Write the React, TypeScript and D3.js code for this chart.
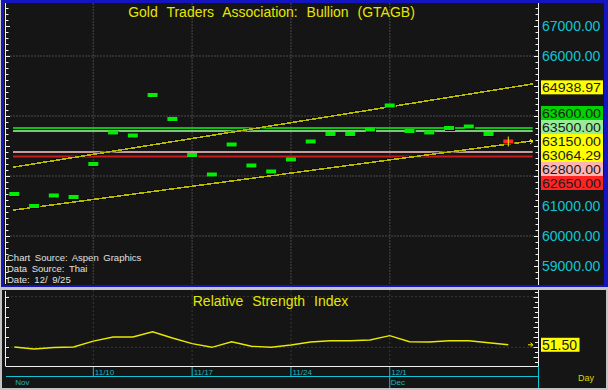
import React from "react";
import * as d3 from "d3";

const dates = ["11/4","11/5","11/6","11/7","11/10","11/11","11/12","11/13","11/14","11/17","11/18","11/19","11/20","11/21","11/24","11/25","11/26","11/27","11/28","12/1","12/2","12/3","12/4","12/5","12/8","12/9"];
const closes = [61400,61000,61350,61300,62400,63450,63350,64700,63900,62700,62050,63050,62350,62150,62550,63150,63400,63400,63550,64350,63500,63450,63600,63650,63400,63150];
const rsiValues = [50.2,49.0,49.9,50.2,53.7,56.1,56.1,59.2,55.5,52.2,50.0,53.3,50.6,50.0,51.4,53.1,53.9,53.9,54.3,56.9,53.3,53.1,53.9,53.9,52.7,51.5];
const priceTickLabels = [67000, 66000, 61000, 60000, 59000];
const priceGrid = [66000, 64000, 62000, 60000];
const weekTicks = ["11/10", "11/17", "11/24", "12/1"];
const monthLabels = [{ label: "Nov", date: "11/4" }, { label: "Dec", date: "12/1" }];
const upperTrend = [62300, 64938.97];
const lowerTrend = [60867, 63064.29];
const hLevels = [63600, 63500, 62800, 62650];
const hLevelColors = ["#10c010", "#78c878", "#c89c9c", "#c81c1c"];
const hLevelBoxColors = ["#00d400", "#98ec98", "#ffb4b4", "#ff2424"];
const rsiGrid = [80, 50];
const rsiLast = 51.5;

const FONT = "'Liberation Sans', Arial, sans-serif";

export default function App() {
  const n = dates.length;
  const x = d3.scaleLinear().domain([0, n - 1]).range([14.3, 508.3]);
  const y = d3.scaleLinear().domain([59000, 67000]).range([266, 26]);
  const yr = d3.scaleLinear().domain([50, 80]).range([347.3, 296.7]);
  const lastIdx = n - 1;
  const last = closes[lastIdx];
  const xStart = x.invert(13);
  const xEnd = x.invert(532.7);
  const trendAt = (t: number[], i: number) => t[0] + ((t[1] - t[0]) * i) / lastIdx;

  type Lab = { v: number; text: string; bg: string; anchor?: boolean };
  const labs: Lab[] = [
    { v: upperTrend[1], text: d3.format(".2f")(upperTrend[1]), bg: "#ffff00" },
    ...hLevels.map((v, i) => ({ v, text: d3.format(".2f")(v), bg: hLevelBoxColors[i] })),
    { v: last, text: d3.format(".2f")(last), bg: "#ffff00", anchor: true },
    { v: lowerTrend[1], text: d3.format(".2f")(lowerTrend[1]), bg: "#ffff00" },
  ];
  const BH = 14;
  const anchorY = y(last) - 0.5;
  const above = labs.filter((l) => !l.anchor && l.v > last).sort((a, b) => a.v - b.v);
  const below = labs.filter((l) => !l.anchor && l.v < last).sort((a, b) => b.v - a.v);
  const placed: { lab: Lab; cy: number }[] = [{ lab: labs.find((l) => l.anchor)!, cy: anchorY }];
  let cur = anchorY;
  above.forEach((l) => {
    const cy = Math.min(y(l.v) - 0.5, cur - BH);
    placed.push({ lab: l, cy });
    cur = cy;
  });
  cur = anchorY;
  below.forEach((l) => {
    const cy = Math.max(y(l.v), cur + BH);
    placed.push({ lab: l, cy });
    cur = cy;
  });

  const minorTicks = d3.range(58400, 67801, 200);
  const rsiLeftTicks = d3.range(44, 81, 6);
  const rsiRightTicks = d3.range(38, 84, 3);
  const weekIdx = weekTicks.map((d) => dates.indexOf(d));

  const line = d3.line<number>().x((_, i) => x(i)).y((v) => yr(v));
  const trendPath = (t: number[]) =>
    d3.line<number>().x((i) => x(i)).y((i) => y(trendAt(t, i)))([xStart, xEnd]) || "";

  return (
    <svg width={608} height={390} style={{ position: "absolute", left: 0, top: 0, display: "block" }} fontFamily={FONT}>
      <rect x={0} y={0} width={608} height={390} fill="#c4c4c4" />
      <rect x={0} y={0} width={608} height={287} fill="#1414c0" />
      <rect x={0} y={0} width={1} height={287} fill="#d0d0d0" />
      <rect x={4} y={3} width={600} height={282} fill="#151515" />
      {priceGrid.map((v) => (
        <line key={"g" + v} x1={7} x2={538} y1={y(v)} y2={y(v)} stroke="#383838" strokeWidth={1.5} strokeDasharray="2,1" />
      ))}
      {weekIdx.map((i) => (
        <line key={"vg" + i} x1={x(i)} x2={x(i)} y1={3} y2={285} stroke="#383838" strokeWidth={1.5} strokeDasharray="2,1" />
      ))}
      {hLevels.map((v, i) => (
        <line key={"h" + v} x1={13} x2={532.7} y1={y(v)} y2={y(v)} stroke={hLevelColors[i]} strokeWidth={2} />
      ))}
      {[upperTrend, lowerTrend].map((t, k) => (
        <g key={"t" + k}>
          <path d={trendPath(t)} stroke="#000" strokeWidth={3} fill="none" opacity={0.6} />
          <path d={trendPath(t)} stroke="#b8b800" strokeWidth={1.6} fill="none" shapeRendering="crispEdges" />
        </g>
      ))}
      {closes.map((v, i) => (
        <g key={"b" + i}>
          <rect x={x(i) - 5 + 1} y={y(v) - 2 + 1} width={10} height={4} fill="#000" />
          <rect x={x(i) - 5} y={y(v) - 2} width={10} height={4} fill={i === lastIdx ? "#ff2828" : "#00ee00"} />
        </g>
      ))}
      <line x1={x(lastIdx)} x2={x(lastIdx)} y1={y(last) - 5} y2={y(last) + 5} stroke="#e8e800" strokeWidth={1} />
      <path d={`M527,${y(last)} H533 M530,${y(last) - 2.5} L533,${y(last)} L530,${y(last) + 2.5}`} stroke="#e8e800" strokeWidth={1} fill="none" />
      <line x1={5.5} x2={5.5} y1={3} y2={284} stroke="#f0f0f0" strokeWidth={1} />
      <line x1={538.5} x2={538.5} y1={3} y2={285} stroke="#f0f0f0" strokeWidth={1} />
      {minorTicks.map((v) => {
        const major = v % 1000 === 0;
        const yy = Math.round(y(v)) + 0.5;
        if (yy < 4 || yy > 284) return null;
        return (
          <g key={"mt" + v}>
            <line x1={5.5} x2={major ? 10 : 8.5} y1={yy} y2={yy} stroke="#f0f0f0" />
            <line x1={538.5} x2={major ? 534 : 535.5} y1={yy} y2={yy} stroke="#f0f0f0" />
          </g>
        );
      })}
      {priceTickLabels.map((v) => (
        <text key={"pl" + v} x={542} y={y(v) + 5} fontSize={14} fill="#10c4d4">
          {d3.format(".2f")(v)}
        </text>
      ))}
      {placed.map(({ lab, cy }, k) => (
        <g key={"lb" + k}>
          <rect x={541} y={cy - BH / 2} width={62} height={BH} fill={lab.bg} />
          <text x={542} y={cy + 4.8} fontSize={12} textLength={59} lengthAdjust="spacingAndGlyphs" fill="#1a1a1a">
            {lab.text}
          </text>
        </g>
      ))}
      <text x={271.5} y={17.3} textAnchor="middle" fontSize={14} wordSpacing={5} fill="#e6e600">
        Gold Traders Association: Bullion (GTAGB)
      </text>
      <g fontSize={9.5} fill="#e0e0e0" wordSpacing={2}>
        <text x={7} y={261}>Chart Source: Aspen Graphics</text>
        <text x={7} y={271.7}>Data Source: Thai</text>
        <text x={7} y={283.3}>Date: 12/ 9/25</text>
      </g>

      <rect x={2} y={290} width={604} height={98} fill="#151515" />
      {rsiGrid.map((v) => (
        <line key={"rg" + v} x1={7} x2={538} y1={yr(v)} y2={yr(v)} stroke="#383838" strokeWidth={1} strokeDasharray="2,2" />
      ))}
      {weekIdx.map((i) => (
        <line key={"rvg" + i} x1={x(i)} x2={x(i)} y1={290} y2={366} stroke="#383838" strokeWidth={1} strokeDasharray="2,2" />
      ))}
      <path d={line(rsiValues) || ""} stroke="#e8e800" strokeWidth={1.4} fill="none" />
      <path d={`M528,${yr(rsiLast)} H533 M530.5,${yr(rsiLast) - 2} L533,${yr(rsiLast)} L530.5,${yr(rsiLast) + 2}`} stroke="#e8e800" strokeWidth={1} fill="none" />
      <line x1={5.5} x2={5.5} y1={291} y2={366} stroke="#f0f0f0" />
      <line x1={5.5} x2={539} y1={366.5} y2={366.5} stroke="#f0f0f0" />
      <line x1={538.5} x2={538.5} y1={290} y2={366} stroke="#f0f0f0" />
      <line x1={538.5} x2={538.5} y1={366} y2={388} stroke="#10c4d4" />
      {rsiLeftTicks.map((v) => (
        <line key={"rl" + v} x1={5.5} x2={9} y1={Math.round(yr(v)) + 0.5} y2={Math.round(yr(v)) + 0.5} stroke="#f0f0f0" />
      ))}
      {rsiRightTicks.map((v, k) => {
        const yy = Math.round(yr(v)) + 0.5;
        if (yy < 292 || yy > 365) return null;
        return <line key={"rr" + v} x1={538.5} x2={k % 2 === 0 ? 533.5 : 535} y1={yy} y2={yy} stroke="#f0f0f0" />;
      })}
      <rect x={541} y={yr(rsiLast) - 7} width={38.5} height={14} fill="#ffff00" />
      <text x={542} y={yr(rsiLast) + 5.2} fontSize={14} fill="#1a1a1a">
        {d3.format(".2f")(rsiLast)}
      </text>
      <text x={270.5} y={306} textAnchor="middle" fontSize={14} wordSpacing={5} fill="#e6e600">
        Relative Strength Index
      </text>
      <line x1={6} x2={538} y1={376.5} y2={376.5} stroke="#10c4d4" />
      {weekIdx.map((i, k) => (
        <g key={"wt" + i}>
          <line x1={x(i)} x2={x(i)} y1={367} y2={weekTicks[k] === "12/1" ? 388 : 376.5} stroke="#10c4d4" />
          <text x={x(i) + 1.5} y={374.5} fontSize={8} fill="#20b4c4">
            {weekTicks[k]}
          </text>
        </g>
      ))}
      {monthLabels.map((m) => (
        <text key={m.label} x={x(dates.indexOf(m.date)) + 1} y={384.5} fontSize={8} fill="#20b4c4">
          {m.label}
        </text>
      ))}
      <text x={578} y={381} fontSize={9} fill="#d8d800">
        Day
      </text>
    </svg>
  );
}
